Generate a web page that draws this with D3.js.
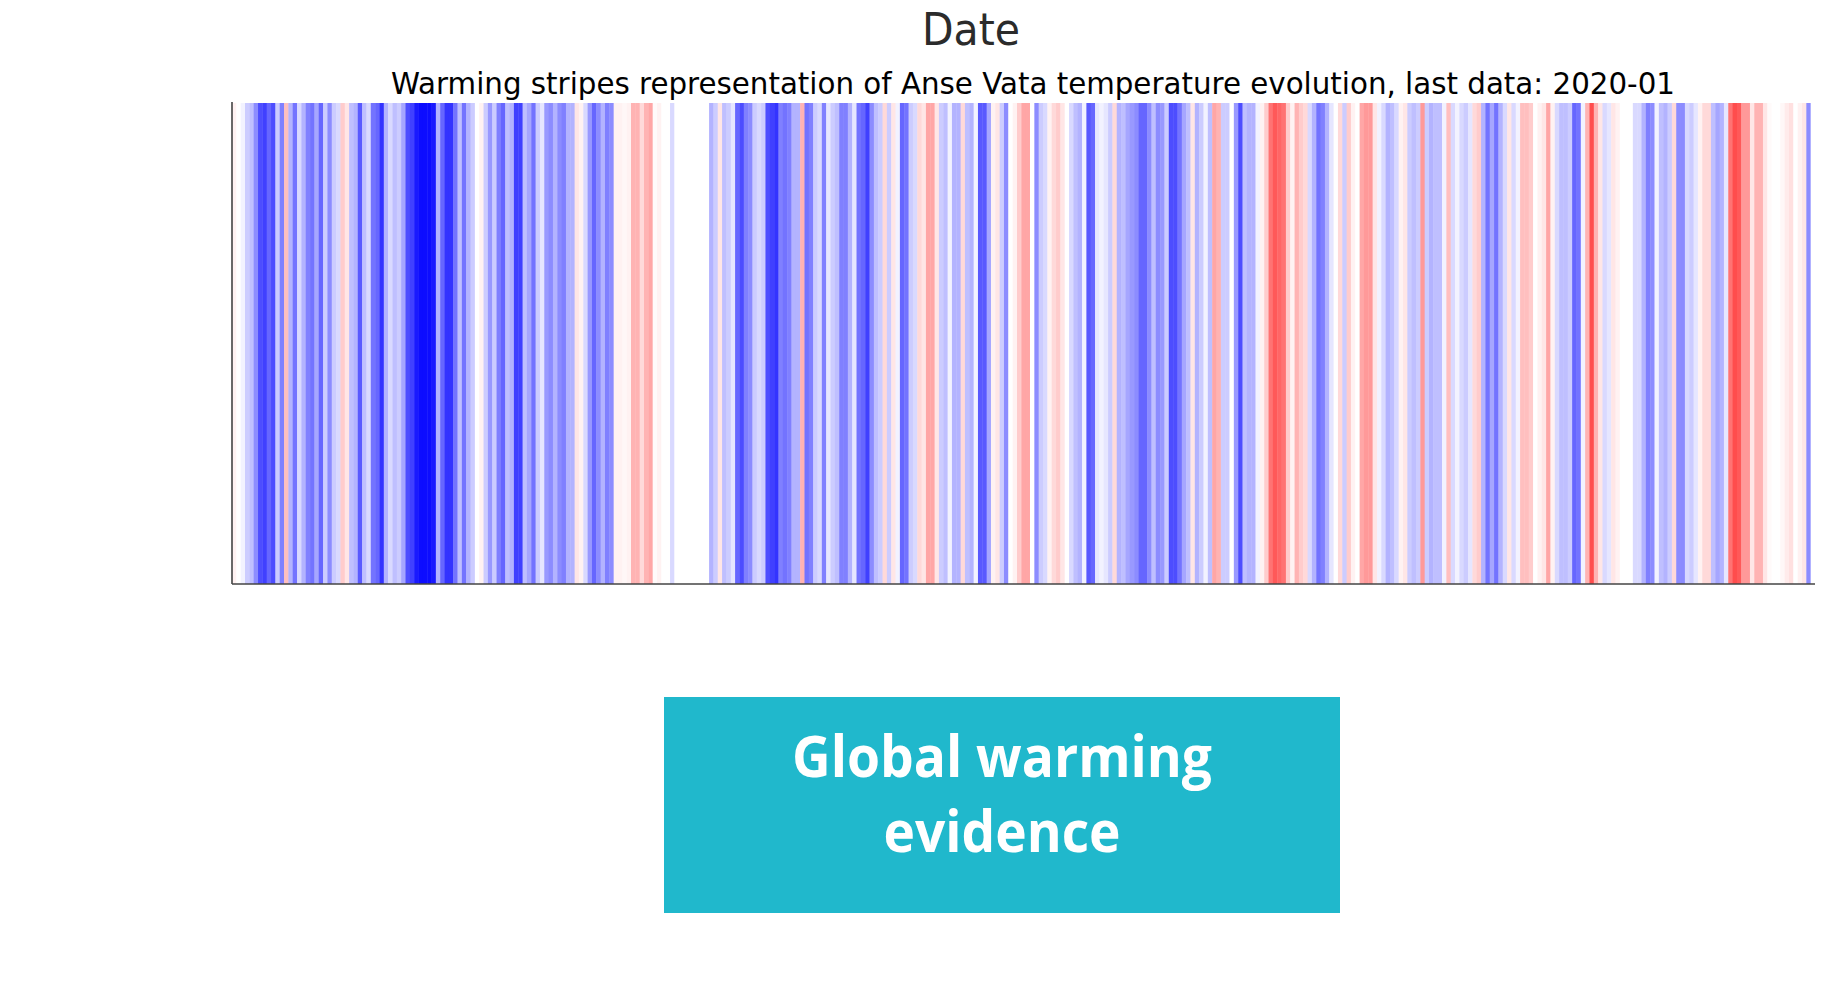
<!DOCTYPE html>
<html>
<head>
<meta charset="utf-8">
<script src="https://cdn.jsdelivr.net/npm/d3@7"></script>
<style>
  html, body { margin: 0; padding: 0; background: #fff; }
  svg { display: block; }
</style>
</head>
<body>
<svg id="chart"></svg>
<script>
// monthly temperature anomalies (scaled -1..1), read from the stripes, last month 2020-01
const anomalies = [
  0.05, 0.0, -0.05, -0.2, -0.25, -0.45, -0.7, -0.75, -0.6, -0.7,
  -0.2, -0.5, 0.25, -0.3, -0.55, -0.15, -0.3, -0.5, -0.55, -0.35,
  -0.6, -0.2, -0.45, -0.2, -0.15, 0.2, 0.1, -0.25, -0.3, -0.65,
  -0.25, -0.15, -0.55, -0.6, -0.8, -0.3, -0.15, -0.25, -0.2, -0.35,
  -0.7, -0.75, -0.9, -0.95, -0.95, -0.95, -0.9, -0.3, -0.6, -0.8,
  -0.8, -0.55, -0.25, -0.55, -0.3, -0.2, 0.0, 0.05, -0.2, -0.4,
  -0.2, -0.5, -0.6, -0.25, -0.3, -0.75, -0.75, -0.25, -0.35, -0.55,
  -0.2, -0.1, -0.4, -0.45, -0.3, -0.45, -0.5, -0.3, -0.3, 0.1,
  0.05, -0.15, -0.4, -0.6, -0.45, -0.3, -0.5, -0.45, 0.05, 0.05,
  0.03, 0.05, 0.3, 0.3, 0.15, 0.3, 0.35, 0.02, 0.05, 0.0,
  0.0, -0.15, 0.0, 0.0, 0.0, 0.0, 0.0, 0.0, 0.0, 0.0,
  -0.3, -0.2, 0.1, -0.25, -0.2, -0.1, -0.6, -0.7, -0.5, -0.45,
  -0.2, -0.15, -0.2, -0.7, -0.75, -0.8, -0.5, -0.55, -0.5, -0.3,
  -0.3, 0.3, -0.55, -0.5, -0.2, -0.15, -0.5, -0.1, -0.2, -0.25,
  -0.5, -0.5, -0.3, -0.1, -0.55, -0.6, -0.75, -0.45, -0.25, -0.2,
  0.15, -0.2, 0.1, -0.05, -0.6, -0.55, -0.2, -0.15, 0.15, 0.1,
  0.35, 0.35, 0.1, -0.2, -0.25, -0.05, -0.3, -0.3, 0.15, -0.25,
  -0.3, -0.05, -0.65, -0.65, -0.35, 0.05, 0.1, -0.2, -0.45, 0.0,
  0.05, 0.2, 0.35, 0.35, 0.0, -0.45, -0.2, -0.15, 0.05, 0.15,
  0.2, 0.1, 0.0, -0.15, -0.25, -0.3, -0.05, -0.65, -0.6, -0.1,
  -0.05, -0.1, -0.2, 0.15, -0.3, -0.25, -0.35, -0.4, -0.45, -0.6,
  -0.6, -0.45, -0.25, -0.45, -0.4, -0.2, -0.7, -0.7, -0.55, -0.35,
  -0.25, 0.1, -0.3, -0.2, -0.05, -0.25, 0.35, 0.3, -0.2, -0.2,
  0.0, -0.4, -0.7, -0.25, -0.3, -0.3, -0.05, 0.05, 0.2, 0.55,
  0.65, 0.6, 0.55, 0.2, 0.05, 0.3, 0.2, 0.15, -0.15, -0.3,
  -0.55, -0.5, -0.3, -0.1, 0.0, 0.15, -0.2, 0.2, 0.05, 0.0,
  0.35, 0.4, 0.4, 0.1, -0.05, -0.15, -0.3, -0.25, -0.15, 0.05,
  0.1, -0.2, -0.25, -0.2, 0.4, -0.2, -0.3, -0.25, -0.25, -0.05,
  0.25, -0.15, -0.05, -0.15, -0.2, -0.1, 0.15, 0.2, -0.3, -0.55,
  -0.35, -0.55, -0.3, -0.15, 0.1, -0.15, -0.05, 0.25, 0.25, 0.2,
  0.0, 0.05, 0.1, 0.35, 0.05, -0.15, -0.25, -0.25, -0.2, -0.6,
  -0.55, -0.05, 0.3, 0.7, 0.3, 0.1, -0.15, -0.1, 0.1, 0.05,
  0.0, 0.0, 0.0, -0.15, -0.15, -0.3, -0.5, -0.45, -0.05, -0.25,
  -0.3, -0.2, 0.15, -0.45, -0.45, -0.15, -0.2, -0.1, 0.05, 0.15,
  0.15, -0.25, -0.35, -0.3, -0.1, 0.55, 0.7, 0.65, 0.4, 0.4,
  0.1, 0.3, 0.3, 0.1, 0.02, 0.0, 0.0, 0.03, 0.08, 0.12,
  0.0, 0.05, 0.1, -0.45, 0.0
];
const lastMonth = new Date(2020, 0, 1);
const months = d3.timeMonth.range(
  d3.timeMonth.offset(lastMonth, -(anomalies.length - 1)),
  d3.timeMonth.offset(lastMonth, 1)
);
const titleText = "Warming stripes representation of Anse Vata temperature evolution, last data: 2020-01";
const xLabel = "Date";
const boxLines = ["Global warming", "evidence"];

const W = 1840, H = 983;
const plot = { left: 232, right: 1815, top: 103, bottom: 584 };

const svg = d3.select("#chart").attr("width", W).attr("height", H);

const x = d3.scaleBand()
  .domain(months.map(d => +d))
  .range([plot.left, plot.right])
  .paddingInner(0).paddingOuter(0);

const color = d3.scaleLinear()
  .domain([-1, 0, 1])
  .range(["#0000ff", "#ffffff", "#ff0000"])
  .clamp(true);

svg.append("g")
  .selectAll("rect")
  .data(anomalies)
  .join("rect")
    .attr("x", (d, i) => x(+months[i]))
    .attr("y", plot.top)
    .attr("width", x.bandwidth() + 0.4)
    .attr("height", plot.bottom - plot.top)
    .attr("fill", d => color(d));

// spines (left + bottom only)
svg.append("line")
  .attr("x1", plot.left).attr("x2", plot.left)
  .attr("y1", plot.top - 1).attr("y2", plot.bottom)
  .attr("stroke", "#444").attr("stroke-width", 1.6);
svg.append("line")
  .attr("x1", plot.left).attr("x2", plot.right)
  .attr("y1", plot.bottom).attr("y2", plot.bottom)
  .attr("stroke", "#444").attr("stroke-width", 1.6);

// axis label from the previous panel, sitting above the title
svg.append("text")
  .attr("x", 971).attr("y", 45)
  .attr("text-anchor", "middle")
  .attr("font-family", "DejaVu Sans, sans-serif")
  .attr("font-size", 45)
  .attr("textLength", 98)
  .attr("lengthAdjust", "spacingAndGlyphs")
  .attr("fill", "#2b2b2b")
  .text(xLabel);

svg.append("text")
  .attr("x", 1033).attr("y", 94)
  .attr("text-anchor", "middle")
  .attr("font-family", "DejaVu Sans, sans-serif")
  .attr("font-size", 30)
  .attr("textLength", 1284)
  .attr("lengthAdjust", "spacingAndGlyphs")
  .attr("fill", "#000")
  .text(titleText);

// teal caption box
const box = { x: 664, y: 697, w: 676, h: 216 };
svg.append("rect")
  .attr("x", box.x).attr("y", box.y)
  .attr("width", box.w).attr("height", box.h)
  .attr("fill", "#20b8cc");

const lineSpecs = [{ y: 777, len: 420 }, { y: 852, len: 237 }];
svg.append("g")
  .selectAll("text")
  .data(boxLines)
  .join("text")
    .attr("x", box.x + box.w / 2)
    .attr("y", (d, i) => lineSpecs[i].y)
    .attr("text-anchor", "middle")
    .attr("font-family", "Open Sans, sans-serif")
    .attr("font-weight", "bold")
    .attr("font-size", 58)
    .attr("textLength", (d, i) => lineSpecs[i].len)
    .attr("lengthAdjust", "spacingAndGlyphs")
    .attr("fill", "#fff")
    .text(d => d);
</script>
</body>
</html>
